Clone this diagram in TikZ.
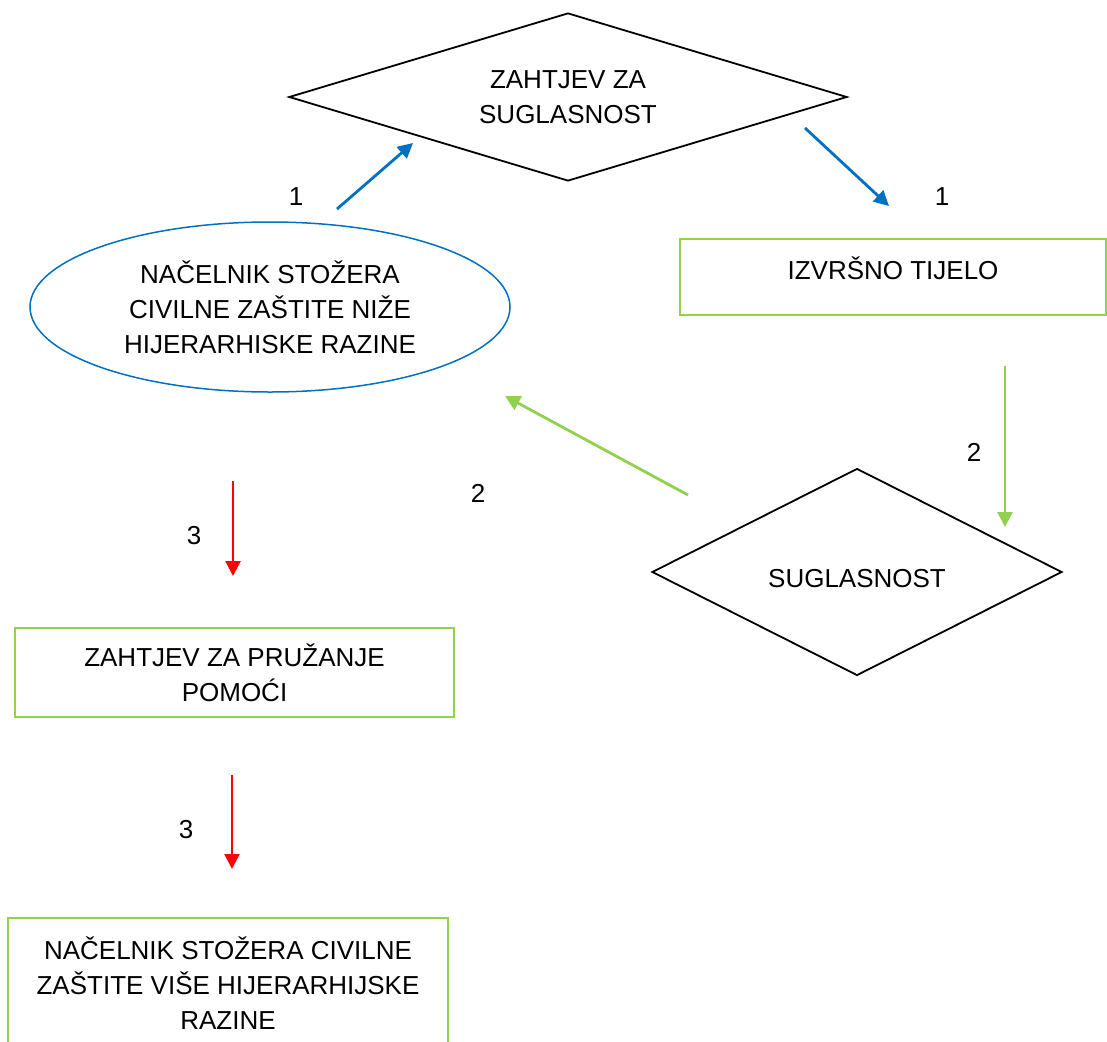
\documentclass[tikz,border=0pt]{standalone}
\usepackage{fontspec}
\setmainfont{Liberation Sans}
\usetikzlibrary{shapes.geometric,arrows.meta}
\definecolor{plava}{HTML}{0070C0}
\definecolor{zelena}{HTML}{92D050}
\definecolor{crvena}{HTML}{FF0000}
\begin{document}
\begin{tikzpicture}[x=1pt,y=-1pt]
        \tikzstyle{every node}=[font=\fontsize{26}{35}\selectfont, align=center]
        \tikzstyle{romb}=[draw, diamond, line width=1.8pt, inner sep=0pt, shape aspect=3.3]
        \tikzstyle{okvir}=[draw=zelena, rectangle, line width=2pt]
        \tikzstyle{strelica}=[-{Triangle[length=15pt,width=15pt]}, line width=2.8pt]

        \useasboundingbox (0,0) rectangle (1107,1041);

        \node (zahtjev)  [romb, minimum width=558, minimum height=168] at (568,97) {ZAHTJEV ZA\\SUGLASNOST};
        \node (nizi)     [draw=plava, ellipse, line width=1.5pt, minimum width=480, minimum height=170] at (270,307) {NAČELNIK STOŽERA\\CIVILNE ZAŠTITE NIŽE\\HIJERARHISKE RAZINE};
        \node (tijelo)   [okvir, minimum width=426, minimum height=76, text depth=18pt] at (893,277) {IZVRŠNO TIJELO};
        \node (suglas)   [romb, minimum width=410, minimum height=207, text height=31pt] at (857,572) {SUGLASNOST};
        \node (pomoc)    [okvir, minimum width=439, minimum height=89] at (234.5,672.5) {ZAHTJEV ZA PRUŽANJE\\POMOĆI};
        \node (visi)     [okvir, minimum width=440, minimum height=130] at (228,983) {NAČELNIK STOŽERA CIVILNE\\ZAŠTITE VIŠE HIJERARHIJSKE\\RAZINE};

        \coordinate (a1) at (337,209);  \coordinate (b1) at (413,143);
        \coordinate (a2) at (805,128);  \coordinate (b2) at (889,206);
        \coordinate (a3) at (1005,366); \coordinate (b3) at (1005,527);
        \coordinate (a4) at (688,495);  \coordinate (b4) at (505,396);
        \coordinate (a5) at (233,481);  \coordinate (b5) at (233,576);
        \coordinate (a6) at (232,775);  \coordinate (b6) at (232,869);

        \draw[strelica, plava]  (a1) -- (b1);
        \draw[strelica, plava]  (a2) -- (b2);
        \draw[strelica, zelena] (a3) -- (b3);
        \draw[strelica, zelena] (a4) -- (b4);
        \draw[strelica, crvena, line width=2.4pt] (a5) -- (b5);
        \draw[strelica, crvena, line width=2.4pt] (a6) -- (b6);

        \node (n1) at (296,197) {1};
        \node (n2) at (942,197) {1};
        \node (n3) at (974,452) {2};
        \node (n4) at (478,493) {2};
        \node (n5) at (194,536) {3};
        \node (n6) at (186,830) {3};
\end{tikzpicture}
\end{document}
